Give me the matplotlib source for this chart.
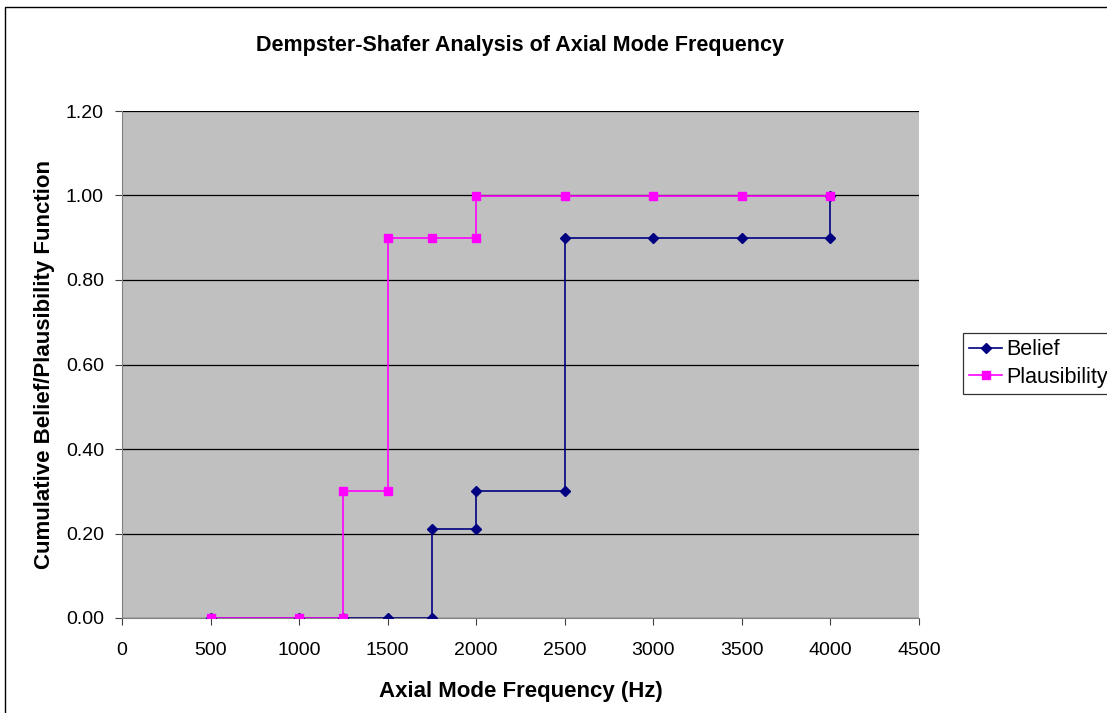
import matplotlib.pyplot as plt
from matplotlib.patches import Rectangle
from matplotlib.ticker import FormatStrFormatter, MultipleLocator

# ----------------------------
# Data (step points)
# ----------------------------
belief_x = [500, 1000, 1250, 1500, 1750, 1750, 2000, 2000, 2500, 2500, 3000, 3500, 4000, 4000]
belief_y = [0.0, 0.0, 0.0, 0.0, 0.0, 0.21, 0.21, 0.30, 0.30, 0.90, 0.90, 0.90, 0.90, 1.00]

plaus_x = [500, 1000, 1250, 1250, 1500, 1500, 1750, 2000, 2000, 2500, 3000, 3500, 4000]
plaus_y = [0.0, 0.0, 0.0, 0.30, 0.30, 0.90, 0.90, 0.90, 1.00, 1.00, 1.00, 1.00, 1.00]

W, H = 1107, 713
fig = plt.figure(figsize=(W / 100, H / 100), dpi=100)
plt.rcParams['font.family'] = ['Liberation Sans', 'DejaVu Sans']

# outer chart border (right and bottom edges fall outside the image)
fig.patches.append(Rectangle((5 / W, -0.05), 1.2, 1 - 7 / H + 0.05,
                             transform=fig.transFigure, fill=False,
                             edgecolor='black', linewidth=1.0))

ax = fig.add_axes([122 / W, 1 - 618 / H, (919 - 122) / W, (618 - 111) / H])
ax.set_facecolor('#C0C0C0')

ax.plot(belief_x, belief_y, color='#000080', marker='D', markersize=5,
        linewidth=1.2, label='Belief', zorder=3)
ax.plot(plaus_x, plaus_y, color='#FF00FF', marker='s', markersize=6,
        linewidth=1.2, label='Plausibility', zorder=4)

ax.set_xlim(0, 4500)
ax.set_ylim(0, 1.2)
ax.xaxis.set_major_locator(MultipleLocator(500))
ax.yaxis.set_major_locator(MultipleLocator(0.2))
ax.yaxis.set_major_formatter(FormatStrFormatter('%.2f'))
ax.yaxis.grid(True, color='black', linewidth=0.9)
ax.set_axisbelow(True)

for side in ('top', 'right'):
    ax.spines[side].set_visible(False)
for side in ('left', 'bottom'):
    ax.spines[side].set_color('#808080')

ax.tick_params(axis='both', direction='out', length=5, labelsize=14, color='#404040')
ax.tick_params(axis='x', pad=12)
ax.tick_params(axis='y', pad=8)

ax.set_xlabel('Axial Mode Frequency (Hz)', fontsize=16, fontweight='bold', labelpad=16)
ax.set_ylabel('Cumulative Belief/Plausibility Function', fontsize=16,
              fontweight='bold', labelpad=8)
fig.text(520 / W, 1 - 46 / H, 'Dempster-Shafer Analysis of Axial Mode Frequency',
         ha='center', va='center', fontsize=15.5, fontweight='bold')

leg = fig.legend(loc='upper left', bbox_to_anchor=(963 / W, 1 - 333 / H),
                 fontsize=15.5, frameon=True, fancybox=False, edgecolor='black',
                 borderpad=0.3, handlelength=1.5, handletextpad=0.2,
                 labelspacing=0.3, borderaxespad=0)
leg.get_frame().set_linewidth(0.9)

fig.savefig('out.png', dpi=100)
